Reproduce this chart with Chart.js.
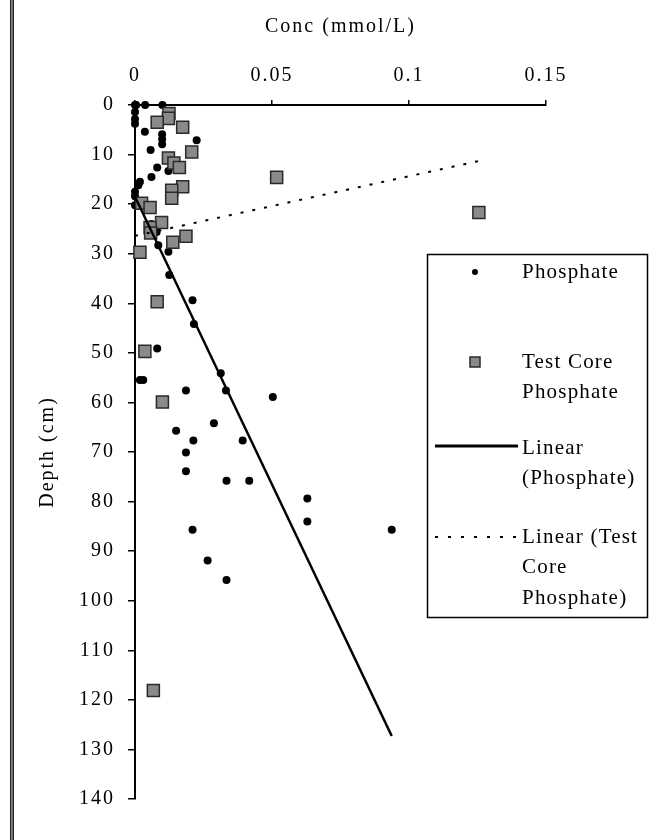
<!DOCTYPE html>
<html>
<head>
<meta charset="utf-8">
<title>Phosphate profile</title>
<script src="https://cdn.jsdelivr.net/npm/chart.js@4.4.0/dist/chart.umd.min.js"></script>
<style>
  html, body { margin: 0; padding: 0; background: #fff; }
  #wrap { position: relative; width: 649px; height: 840px; }
</style>
</head>
<body>
<div id="wrap"><canvas id="profile" width="649" height="840"></canvas></div>
<script>
// pore-water phosphate, main core
const phosphateConc = [
    0, 0.0004, 0.0037, 0.0100, 0, 0, 0, 0.0036, 0.0099, 0.0099,
    0.0099, 0.0225, 0.0057, 0.0081, 0.0060, 0.0122, 0.0018, 0.0012, 0, 0,
    0, 0.0024, 0.0060, 0.0079, 0.0085, 0.0122, 0.0125, 0.0210, 0.0215, 0.0081,
    0.0018, 0.0030, 0.0313, 0.0332, 0.0186, 0.0503, 0.0288, 0.0150, 0.0393, 0.0213,
    0.0186, 0.0186, 0.0334, 0.0417, 0.0629, 0.0629, 0.0210, 0.0937, 0.0265, 0.0334
];
const phosphateDepth = [
    0, 0, 0, 0, 1.4, 2.8, 3.8, 5.4, 5.9, 6.9,
    7.9, 7.1, 9.1, 12.6, 14.5, 13.3, 15.5, 16.2, 17.5, 18.4,
    20.2, 19.9, 24.0, 25.6, 28.3, 29.6, 34.3, 39.4, 44.2, 49.1,
    55.5, 55.5, 54.1, 57.6, 57.6, 58.9, 64.2, 65.7, 67.7, 67.7,
    70.1, 73.9, 75.8, 75.8, 79.4, 84.0, 85.7, 85.7, 91.9, 95.8
];

// test core
const testConc = [
    0.0124, 0.0122, 0.0081, 0.0174, 0.0207, 0.0122, 0.0142, 0.0162, 0.0517, 0.0174,
    0.0134, 0.0134, 0.0024, 0.0055, 0.1255, 0.0097, 0.0055, 0.0057, 0.0186, 0.0138,
    0.0018, 0.0081, 0.0036, 0.0100, 0.0067
];
const testDepth = [
    1.7, 2.7, 3.5, 4.5, 9.5, 10.7, 11.7, 12.6, 14.6, 16.5,
    17.2, 18.8, 19.8, 20.7, 21.7, 23.7, 24.7, 25.8, 26.5, 27.7,
    29.7, 39.7, 49.7, 59.9, 118.1
];

// linear trend end points (conc, depth)
const phosphateFitConc = [0, 0.0937];
const phosphateFitDepth = [18.5, 127.3];
const testFitConc = [0, 0.1255];
const testFitDepth = [26.4, 11.3];

const seriesNames = ['Phosphate', 'Test Core Phosphate', 'Linear (Phosphate)', 'Linear (Test Core Phosphate)'];
const legendLines = [['Phosphate'], ['Test Core', 'Phosphate'], ['Linear', '(Phosphate)'], ['Linear (Test', 'Core', 'Phosphate)']];

const xTicks = [0, 0.05, 0.1, 0.15];
const yTicks = [0, 10, 20, 30, 40, 50, 60, 70, 80, 90, 100, 110, 120, 130, 140];

const SERIF = '"Liberation Serif", "Times New Roman", serif';
const SQUARE_FILL = '#8a8a8a';
const SQUARE_EDGE = '#2a2a2a';

function toPoints(xs, ys) {
    return xs.map((x, i) => ({x: x, y: ys[i]}));
}

// white page with the frame rule down the left side
const pagePlugin = {
    id: 'page',
    beforeDraw(chart) {
        const ctx = chart.ctx;
        ctx.save();
        ctx.fillStyle = '#fff';
        ctx.fillRect(0, 0, chart.width, chart.height);
        ctx.fillStyle = '#222';
        ctx.fillRect(10, 0, 1.5, chart.height);
        ctx.fillStyle = '#777';
        ctx.fillRect(11.5, 0, 1, chart.height);
        ctx.fillStyle = '#222';
        ctx.fillRect(12.5, 0, 1.5, chart.height);
        ctx.restore();
        // the old bitmap serif runs wide, so space the axis text out a bit
        if ('letterSpacing' in ctx) ctx.letterSpacing = '2px';
    }
};

// boxed legend sitting over the right of the plot
const boxLegend = {
    id: 'boxLegend',
    afterDraw(chart) {
        const ctx = chart.ctx;
        const box = {left: 427.5, top: 254.5, right: 647.5, bottom: 617.5};
        const rows = [272, 362, 448, 537];
        const lineGap = 30.5;
        const markX = 475;
        const textX = 522;

        ctx.save();
        ctx.fillStyle = '#fff';
        ctx.fillRect(box.left, box.top, box.right - box.left, box.bottom - box.top);
        ctx.strokeStyle = '#000';
        ctx.lineWidth = 1.5;
        ctx.strokeRect(box.left, box.top, box.right - box.left, box.bottom - box.top);

        // symbols
        ctx.fillStyle = '#000';
        ctx.beginPath();
        ctx.arc(markX, rows[0], 3, 0, Math.PI * 2);
        ctx.fill();

        ctx.fillStyle = SQUARE_FILL;
        ctx.strokeStyle = SQUARE_EDGE;
        ctx.lineWidth = 1.5;
        ctx.fillRect(markX - 5, rows[1] - 5, 10, 10);
        ctx.strokeRect(markX - 5, rows[1] - 5, 10, 10);

        ctx.strokeStyle = '#000';
        ctx.lineWidth = 3;
        ctx.beginPath();
        ctx.moveTo(435, rows[2] - 2);
        ctx.lineTo(518, rows[2] - 2);
        ctx.stroke();

        ctx.lineWidth = 2;
        ctx.setLineDash([3, 10]);
        ctx.beginPath();
        ctx.moveTo(435, rows[3]);
        ctx.lineTo(520, rows[3]);
        ctx.stroke();
        ctx.setLineDash([]);

        // labels
        ctx.fillStyle = '#000';
        ctx.font = '21px ' + SERIF;
        ctx.textBaseline = 'middle';
        ctx.textAlign = 'left';
        if ('letterSpacing' in ctx) ctx.letterSpacing = '1.2px';
        legendLines.forEach((lines, i) => {
            lines.forEach((txt, j) => {
                ctx.fillText(txt, textX, rows[i] + j * lineGap);
            });
        });
        ctx.restore();
    }
};

function createChart(canvasID) {
    const canvas = document.getElementById(canvasID);
    const tickFont = {family: SERIF, size: 20};

    return new Chart(canvas, {
        type: 'scatter',
        data: {
            datasets: [
                {
                    label: seriesNames[2],
                    type: 'line',
                    data: toPoints(phosphateFitConc, phosphateFitDepth),
                    borderColor: '#000',
                    borderWidth: 2.5,
                    pointRadius: 0,
                    fill: false,
                    order: 0
                },
                {
                    label: seriesNames[3],
                    type: 'line',
                    data: toPoints(testFitConc, testFitDepth),
                    borderColor: '#000',
                    borderWidth: 2,
                    borderDash: [3, 9],
                    pointRadius: 0,
                    fill: false,
                    order: 0
                },
                {
                    label: seriesNames[1],
                    data: toPoints(testConc, testDepth),
                    pointStyle: 'rect',
                    pointRadius: 8.5,
                    backgroundColor: SQUARE_FILL,
                    borderColor: SQUARE_EDGE,
                    borderWidth: 1.5,
                    clip: false,
                    order: 1
                },
                {
                    label: seriesNames[0],
                    data: toPoints(phosphateConc, phosphateDepth),
                    pointStyle: 'circle',
                    pointRadius: 4,
                    backgroundColor: '#000',
                    borderColor: '#000',
                    borderWidth: 0,
                    clip: false,
                    order: 2
                }
            ]
        },
        options: {
            responsive: false,
            animation: false,
            events: [],
            layout: {
                padding: {left: 20, right: 103, top: 10, bottom: 41}
            },
            plugins: {
                legend: {display: false},
                tooltip: {enabled: false}
            },
            scales: {
                x: {
                    type: 'linear',
                    position: 'top',
                    min: 0,
                    max: 0.15,
                    afterBuildTicks: scale => {
                        scale.ticks = xTicks.map(v => ({value: v}));
                    },
                    afterFit: scale => { scale.height = 95; },
                    ticks: {
                        color: '#000',
                        font: tickFont,
                        padding: 12,
                        maxRotation: 0,
                        callback: v => String(v)
                    },
                    grid: {
                        drawOnChartArea: false,
                        tickLength: 5,
                        color: '#000',
                        lineWidth: 1.5
                    },
                    border: {color: '#000', width: 2},
                    title: {
                        display: true,
                        text: 'Conc (mmol/L)',
                        color: '#000',
                        font: tickFont,
                        padding: {top: 5, bottom: 0}
                    }
                },
                y: {
                    type: 'linear',
                    reverse: true,
                    min: 0,
                    max: 140,
                    afterBuildTicks: scale => {
                        scale.ticks = yTicks.map(v => ({value: v}));
                    },
                    afterFit: scale => { scale.width = 115; },
                    ticks: {
                        color: '#000',
                        font: tickFont,
                        padding: 13,
                        callback: v => String(v)
                    },
                    grid: {
                        drawOnChartArea: false,
                        tickLength: 7,
                        color: '#000',
                        lineWidth: 1.5
                    },
                    border: {color: '#000', width: 2},
                    title: {
                        display: true,
                        text: 'Depth (cm)',
                        color: '#000',
                        font: tickFont,
                        padding: {top: 16, bottom: 0}
                    }
                }
            }
        },
        plugins: [pagePlugin, boxLegend]
    });
}

createChart('profile');
</script>
</body>
</html>
